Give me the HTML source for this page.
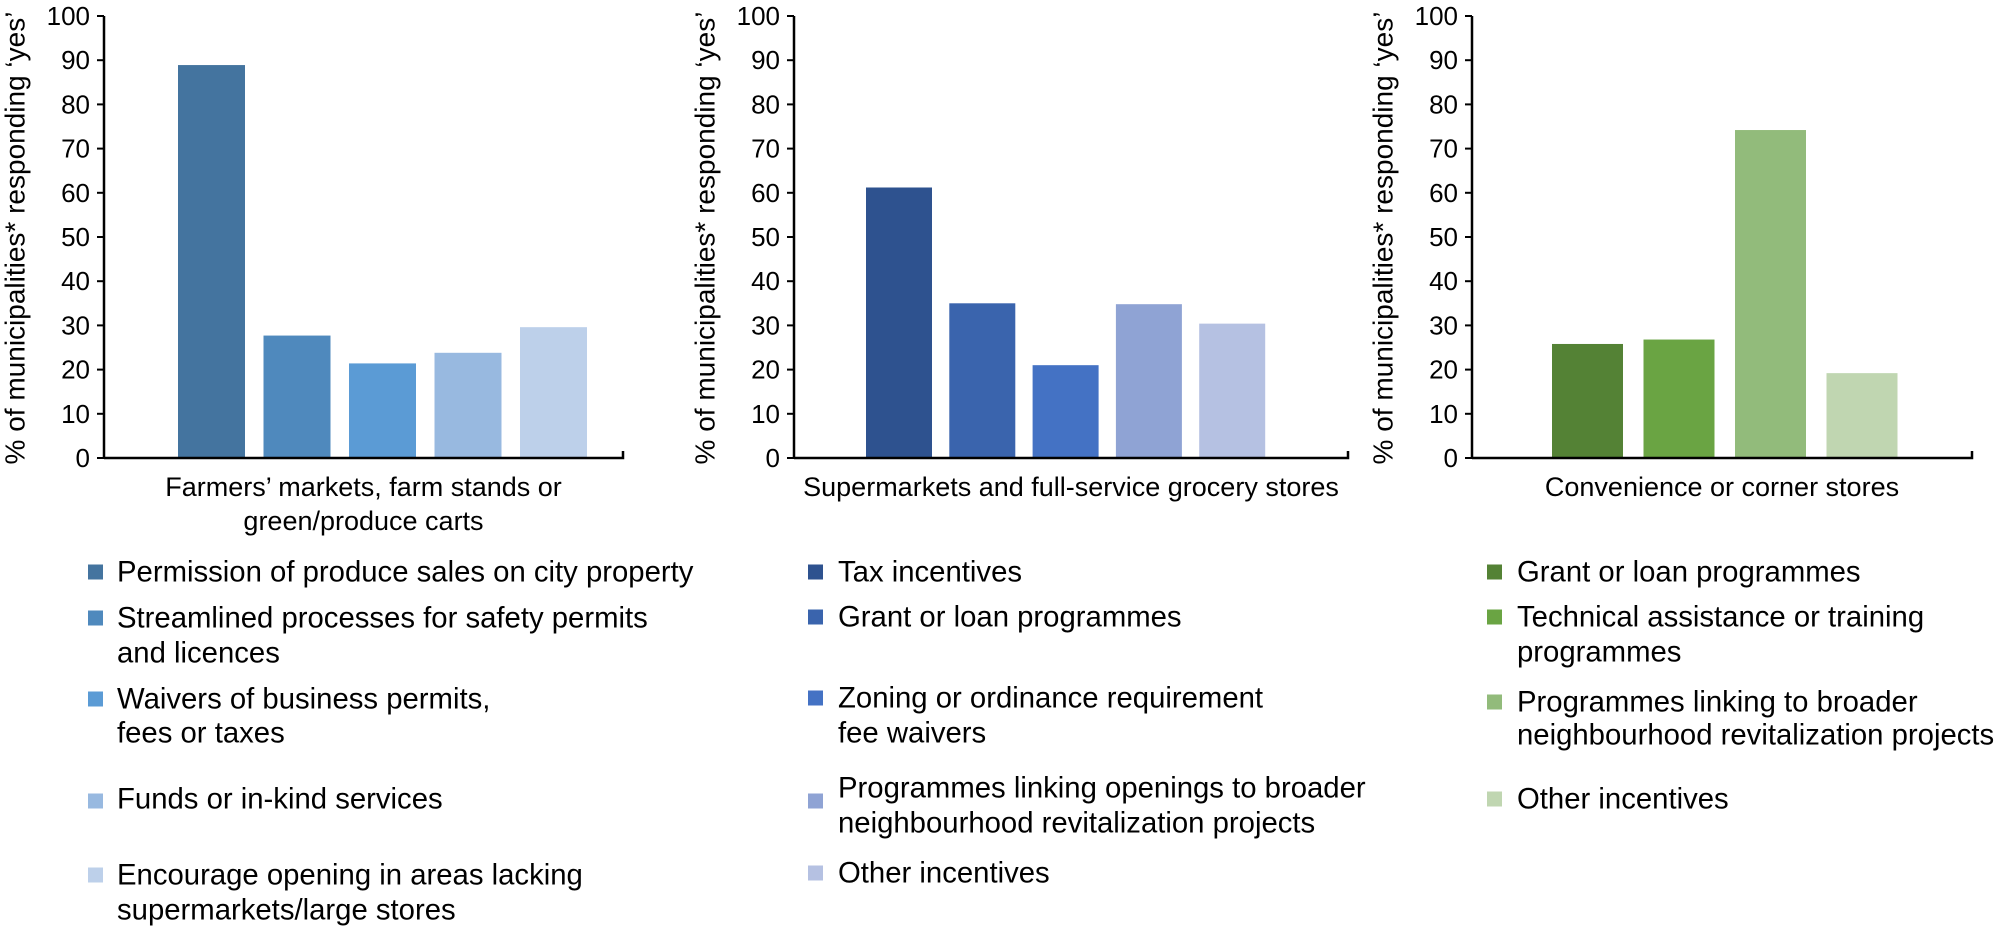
<!DOCTYPE html>
<html><head><meta charset="utf-8">
<style>
html,body{margin:0;padding:0;background:#fff;}
svg{display:block;font-family:"Liberation Sans",Arial,sans-serif;}
</style></head>
<body>
<svg id="chart" width="1994" height="929" viewBox="0 0 1994 929" xmlns="http://www.w3.org/2000/svg"></svg>
<script>
const ticks = [0,10,20,30,40,50,60,70,80,90,100];
const cat1 = ["Farmers’ markets, farm stands or","green/produce carts"];
const cat2 = ["Supermarkets and full-service grocery stores"];
const cat3 = ["Convenience or corner stores"];
const values1 = [88.9, 27.7, 21.4, 23.8, 29.6];
const values2 = [61.2, 35.0, 21.0, 34.8, 30.4];
const values3 = [25.8, 26.8, 74.2, 19.2];
const legend1 = [["Permission of produce sales on city property"],["Streamlined processes for safety permits","and licences"],["Waivers of business permits,","fees or taxes"],["Funds or in-kind services"],["Encourage opening in areas lacking","supermarkets/large stores"]];
const legend2 = [["Tax incentives"],["Grant or loan programmes"],["Zoning or ordinance requirement","fee waivers"],["Programmes linking openings to broader","neighbourhood revitalization projects"],["Other incentives"]];
const legend3 = [["Grant or loan programmes"],["Technical assistance or training","programmes"],["Programmes linking to broader","neighbourhood revitalization projects"],["Other incentives"]];

const colors1 = ["#44749f","#4f89bd","#5b9bd5","#98b9e0","#bdd0ea"];
const colors2 = ["#2e528f","#3a64ad","#4472c4","#8fa3d4","#b5c1e2"];
const colors3 = ["#548235","#6aa443","#92bb7b","#c0d6b1"];

const NS="http://www.w3.org/2000/svg";
const svg=document.getElementById('chart');
function mk(tag,attrs,parent){const e=document.createElementNS(NS,tag);for(const k in attrs)e.setAttribute(k,attrs[k]);(parent||svg).appendChild(e);return e;}
const Y0=458, Y100=16;
function yScale(v){return Y0-(Y0-Y100)*v/100;}

const panels=[
 {ax:104,end:623,first:178,pitch:85.5,w:67,vals:values1,cols:colors1,cat:cat1,leg:legend1,sqx:88,tx:117,
  rows:[[572],[618,653],[699,733],[799],[875,910]],sq:[572,618,699,801,875]},
 {ax:794,end:1348,first:866,pitch:83.3,w:66,vals:values2,cols:colors2,cat:cat2,leg:legend2,sqx:808,tx:838,
  rows:[[572],[617],[698,733],[788,823],[873]],sq:[572,617,698,801,873]},
 {ax:1472,end:1972,first:1552,pitch:91.5,w:71,vals:values3,cols:colors3,cat:cat3,leg:legend3,sqx:1487,tx:1517,
  rows:[[572],[617,652],[702,735],[799]],sq:[572,617,702,799]}
];

panels.forEach((p,pi)=>{
  const g=mk('g',{});
  
  
  const t=mk('text',{x:0,y:0,'font-size':28,'text-anchor':'middle','dominant-baseline':'central',transform:`translate(${p.ax-89},238) rotate(-90)`,fill:'#000'},g);
  t.textContent="% of municipalities* responding ‘yes’";
  
  
  ticks.forEach(v=>{
    const y=yScale(v);
    const l=mk('line',{x1:p.ax-7,x2:p.ax,y1:y,y2:y,stroke:'#000','stroke-width':2},g);
    
    
    const tl=mk('text',{x:p.ax-14,y:y,'font-size':26,'text-anchor':'end','dominant-baseline':'central',fill:'#000'},g);
    tl.textContent=String(v);
    
    
  });
  p.vals.forEach((v,i)=>{
    const x=p.first+i*p.pitch, y=yScale(v);
    const r=mk('rect',{x:x,y:y,width:p.w,height:Y0-y,fill:p.cols[i]},g);
    
    
  });
  const ya=mk('line',{x1:p.ax,x2:p.ax,y1:Y100,y2:Y0+1,stroke:'#000','stroke-width':2.5},g);
  
  
  const xa=mk('path',{d:`M${p.ax} ${Y0} H${p.end} V${Y0-7}`,stroke:'#000','stroke-width':2.5,fill:'none'},g);
  
  
  const cx=(p.ax+p.end)/2;
  p.cat.forEach((s,i)=>{
    const c=mk('text',{x:cx,y:487+i*34,'font-size':27,'text-anchor':'middle','dominant-baseline':'central',fill:'#000'},g);
    c.textContent=s;
    
    
  });
  p.leg.forEach((lines,i)=>{
    const sq=mk('rect',{x:p.sqx,y:p.sq[i]-7.5,width:15,height:15,fill:p.cols[i]},g);
    
    
    lines.forEach((s,j)=>{
      const lt=mk('text',{x:p.tx,y:p.rows[i][j],'font-size':29.3,'dominant-baseline':'central',fill:'#000'},g);
      lt.textContent=s;
      
      
    });
  });
});
</script>
</body></html>
